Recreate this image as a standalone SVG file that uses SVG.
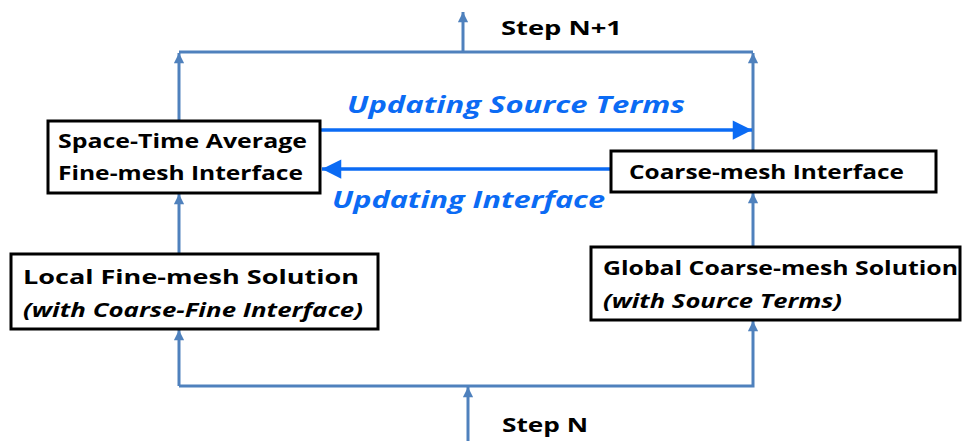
<svg xmlns="http://www.w3.org/2000/svg" width="963" height="441" viewBox="0 0 963 441">
<style>
.box{fill:#fff;stroke:#000;stroke-width:3}
.t{font-family:"Open Sans","Liberation Sans",sans-serif;font-weight:bold;font-size:20px;fill:#000}
.ti{font-style:italic}
.lbl{font-family:"Open Sans","Liberation Sans",sans-serif;font-weight:bold;font-style:italic;font-size:24px;fill:#0B6BF4}
.c{fill:none;stroke:#4F81BD;stroke-width:3}
.b{fill:none;stroke:#0B6BF4;stroke-width:3.5}
</style>
<defs>
<marker id="ah" viewBox="0 0 10 10" refX="10" refY="5" markerWidth="3.6" markerHeight="3.4" orient="auto" markerUnits="strokeWidth">
<path d="M0,0L10,5L0,10z" fill="#4F81BD"/>
</marker>
<marker id="bh" viewBox="0 0 10 10" refX="10" refY="5" markerWidth="6" markerHeight="5.5" orient="auto" markerUnits="strokeWidth">
<path d="M0,0L10,5L0,10z" fill="#0B6BF4"/>
</marker>
</defs>
<g id="connectors">
<path class="c" d="M463,52V12" marker-end="url(#ah)"/>
<path class="c" d="M179,52H753"/>
<path class="c" d="M179,121V53" marker-end="url(#ah)"/>
<path class="c" d="M179,254V194" marker-end="url(#ah)"/>
<path class="c" d="M179,386V330" marker-end="url(#ah)"/>
<path class="c" d="M753,151V53" marker-end="url(#ah)"/>
<path class="c" d="M753,247V193" marker-end="url(#ah)"/>
<path class="c" d="M179,386H753V321" marker-end="url(#ah)"/>
<path class="c" d="M468,441V387" marker-end="url(#ah)"/>
<path class="b" d="M320,130H752" marker-end="url(#bh)"/>
<path class="b" d="M610,169H322" marker-end="url(#bh)"/>
</g>
<g id="labels">
<text class="lbl" x="347" y="113" textLength="338" lengthAdjust="spacingAndGlyphs">Updating Source Terms</text>
<text class="lbl" x="332" y="208" textLength="273" lengthAdjust="spacingAndGlyphs">Updating Interface</text>
<text class="t" x="501" y="35" textLength="121" lengthAdjust="spacingAndGlyphs">Step N+1</text>
<text class="t" x="502" y="432" textLength="86" lengthAdjust="spacingAndGlyphs">Step N</text>
</g>
<g id="space-time">
<rect class="box" x="48" y="121" width="272" height="72"/>
<text class="t" x="58" y="148" textLength="249" lengthAdjust="spacingAndGlyphs">Space-Time Average</text>
<text class="t" x="58" y="180" textLength="245" lengthAdjust="spacingAndGlyphs">Fine-mesh Interface</text>
</g>
<g id="coarse-interface">
<rect class="box" x="611" y="151" width="325" height="41"/>
<text class="t" x="629" y="179" textLength="275" lengthAdjust="spacingAndGlyphs">Coarse-mesh Interface</text>
</g>
<g id="local">
<rect class="box" x="11" y="254" width="367" height="75"/>
<text class="t" x="23" y="284" textLength="336" lengthAdjust="spacingAndGlyphs">Local Fine-mesh Solution</text>
<text class="t ti" x="23" y="317" textLength="340" lengthAdjust="spacingAndGlyphs">(with Coarse-Fine Interface)</text>
</g>
<g id="global">
<rect class="box" x="591" y="247" width="369" height="73"/>
<text class="t" x="603" y="275" textLength="355" lengthAdjust="spacingAndGlyphs">Global Coarse-mesh Solution</text>
<text class="t ti" x="603" y="308" textLength="239" lengthAdjust="spacingAndGlyphs">(with Source Terms)</text>
</g>
</svg>
